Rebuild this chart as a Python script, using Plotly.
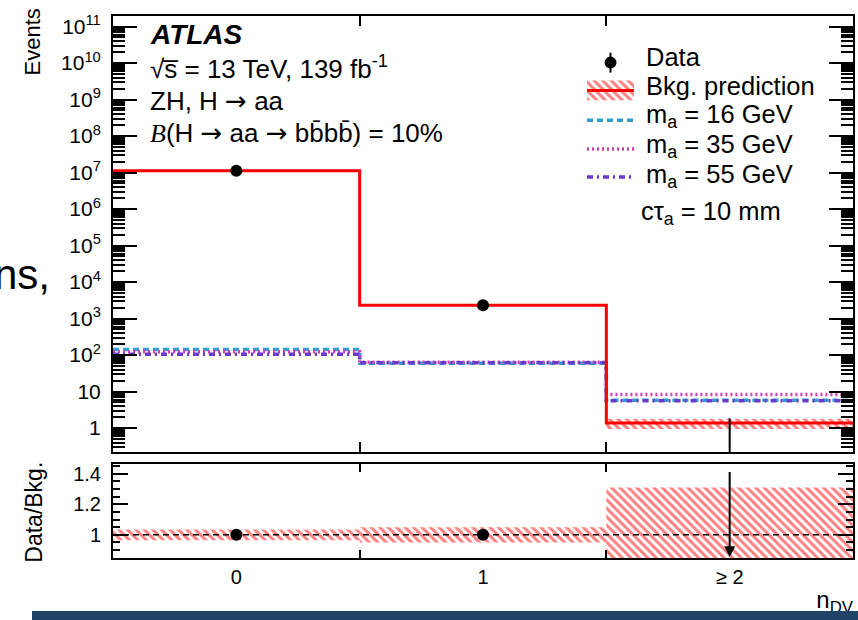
import plotly.graph_objects as go
import numpy as np

W, H = 858, 620
FONT = "Liberation Sans, Arial, Helvetica, sans-serif"

# ---- histogram content -------------------------------------------------
categories = ["0", "1", "≥ 2"]
bin_centres = [0, 1, 2]
bin_edges = [-0.5, 0.5, 1.5, 2.5]

bkg = [1.12e7, 2.3e3, 1.37]
bkg_rel_unc = [0.035, 0.05, 0.31]
data = [1.12e7, 2.3e3, 0.0]
data_err_up = [3347.0, 48.0, 1.84]

sig_16 = [141, 59, 5.8]
sig_35 = [122, 63, 8.3]
sig_55 = [105, 61, 5.6]

# ---- derived quantities -----------------------------------------------
ratio = [d / b for d, b in zip(data, bkg)]
ratio_range = [0.848, 1.461]
main_range_log = [-0.66, 11.29]

C_SIG16 = "#2f9fd2"
C_SIG35 = "#d23fb4"
C_SIG55 = "#6a3acc"
ARROW = "<span style='font-family:DejaVu Sans'>→</span>"


def px_x(p):
    return p / W


def px_y(p):
    return 1 - p / H


def step(vals):
    return bin_edges, list(vals) + [vals[-1]]


fig = go.Figure()

hatch = dict(shape="\\", fgcolor="#ff0000", bgcolor="rgba(0,0,0,0)",
             size=6, solidity=0.5, fillmode="overlay")

# background uncertainty bands (main and ratio panel)
lo = [b * (1 - u) for b, u in zip(bkg, bkg_rel_unc)]
hi = [b * (1 + u) for b, u in zip(bkg, bkg_rel_unc)]
fig.add_trace(go.Bar(x=bin_centres, y=[h - l for h, l in zip(hi, lo)], base=lo,
                     width=1, marker=dict(color="rgba(0,0,0,0)", line_width=0, pattern=hatch),
                     xaxis="x", yaxis="y", showlegend=False))
fig.add_trace(go.Bar(x=bin_centres, y=[2 * u for u in bkg_rel_unc], base=[1 - u for u in bkg_rel_unc],
                     width=1, marker=dict(color="rgba(0,0,0,0)", line_width=0, pattern=hatch),
                     xaxis="x2", yaxis="y2", showlegend=False))

# signal hypotheses
for vals, col, dash in [(sig_16, C_SIG16, "6px,4px"),
                        (sig_35, C_SIG35, "2px,3px"),
                        (sig_55, C_SIG55, "6px,4px,2px,4px")]:
    xs, ys = step(vals)
    fig.add_trace(go.Scatter(x=xs, y=ys, mode="lines", line_shape="hv",
                             line=dict(color=col, width=3.5, dash=dash),
                             xaxis="x", yaxis="y", showlegend=False))

# background prediction
xs, ys = step(bkg)
fig.add_trace(go.Scatter(x=xs, y=ys, mode="lines", line_shape="hv",
                         line=dict(color="#ff0000", width=3),
                         xaxis="x", yaxis="y", showlegend=False))

# data: non-empty bins as points, empty bins only with their upper error
pos = [i for i, d in enumerate(data) if d > 0]
fig.add_trace(go.Scatter(x=[bin_centres[i] for i in pos], y=[data[i] for i in pos],
                         mode="markers", marker=dict(color="black", size=12),
                         error_y=dict(type="data", array=[data_err_up[i] for i in pos],
                                      color="black", thickness=2, width=0),
                         xaxis="x", yaxis="y", showlegend=False))
for i, d in enumerate(data):
    if d <= 0:
        fig.add_trace(go.Scatter(x=[bin_centres[i], bin_centres[i]],
                                 y=[10 ** main_range_log[0] / 10, d + data_err_up[i]],
                                 mode="lines", line=dict(color="black", width=2),
                                 xaxis="x", yaxis="y", showlegend=False))

# ratio panel
fig.add_trace(go.Scatter(x=[-0.5, 2.5], y=[1, 1], mode="lines",
                         line=dict(color="black", width=1.5, dash="6px,4px"),
                         xaxis="x2", yaxis="y2", showlegend=False))
in_rng = [i for i, r in enumerate(ratio) if ratio_range[0] <= r <= ratio_range[1]]
fig.add_trace(go.Scatter(x=[bin_centres[i] for i in in_rng], y=[ratio[i] for i in in_rng],
                         mode="markers", marker=dict(color="black", size=12),
                         xaxis="x2", yaxis="y2", showlegend=False))

annotations = []
for i, r in enumerate(ratio):
    if r < ratio_range[0]:
        annotations.append(dict(x=bin_centres[i], y=ratio_range[0] + 0.005,
                                ax=bin_centres[i], ay=ratio_range[1] - 0.04,
                                xref="x2", yref="y2", axref="x2", ayref="y2",
                                text="", showarrow=True, arrowhead=2, arrowsize=1.1,
                                arrowwidth=2, arrowcolor="black"))

# ---- legend drawn on a pixel-space overlay -----------------------------
leg_x0, leg_x1 = 587, 634
leg_xm = (leg_x0 + leg_x1) / 2
leg_rows = [59, 87, 117, 146, 174]
fig.add_trace(go.Scatter(x=[leg_xm, leg_xm], y=[leg_rows[0] - 10, leg_rows[0] + 10], mode="lines",
                         line=dict(color="black", width=2), xaxis="x3", yaxis="y3", showlegend=False))
fig.add_trace(go.Scatter(x=[leg_xm], y=[leg_rows[0]], mode="markers",
                         marker=dict(color="black", size=12), xaxis="x3", yaxis="y3", showlegend=False))
fig.add_trace(go.Bar(x=[leg_xm], y=[20], base=[leg_rows[1] - 10], width=[leg_x1 - leg_x0],
                     marker=dict(color="rgba(0,0,0,0)", line_width=0, pattern=hatch),
                     xaxis="x3", yaxis="y3", showlegend=False))
fig.add_trace(go.Scatter(x=[leg_x0, leg_x1], y=[leg_rows[1]] * 2, mode="lines",
                         line=dict(color="#ff0000", width=3), xaxis="x3", yaxis="y3", showlegend=False))
for row, col, dash in [(leg_rows[2], C_SIG16, "6px,4px"),
                       (leg_rows[3], C_SIG35, "2px,3px"),
                       (leg_rows[4], C_SIG55, "6px,4px,2px,4px")]:
    fig.add_trace(go.Scatter(x=[leg_x0, leg_x1], y=[row, row], mode="lines",
                             line=dict(color=col, width=3.5, dash=dash),
                             xaxis="x3", yaxis="y3", showlegend=False))

# x-axis title, partly hidden by the footer band
fig.add_trace(go.Scatter(x=[853], y=[602], mode="text", text=["n<sub>DV</sub>"],
                         textposition="middle left", textfont=dict(family=FONT, size=24, color="black"),
                         cliponaxis=False, xaxis="x3", yaxis="y3", showlegend=False))

leg_labels = [(53, "Data"), (83, "Bkg. prediction"), (113, "m<sub>a</sub> = 16 GeV"),
              (143, "m<sub>a</sub> = 35 GeV"), (173, "m<sub>a</sub> = 55 GeV")]
for row, lab in leg_labels:
    annotations.append(dict(x=px_x(644), y=px_y(row), xref="paper", yref="paper", text=lab,
                            showarrow=False, xanchor="left", yanchor="middle",
                            font=dict(family=FONT, size=25.5, color="black")))
annotations.append(dict(x=px_x(639), y=px_y(210), xref="paper", yref="paper",
                        text="cτ<sub>a</sub> = 10 mm", showarrow=False,
                        xanchor="left", yanchor="middle", font=dict(family=FONT, size=25.5, color="black")))

# ---- ATLAS label block ---------------------------------------------------
label_lines = [
    (31, "<b><i>ATLAS</i></b>", 28),
    (64, "√s̅ = 13 TeV, 139 fb<sup>-1</sup>", 26),
    (98, f"ZH, H {ARROW} aa", 26),
    (130, f"<span style='font-family:Liberation Serif'><i>B</i></span>(H {ARROW} aa {ARROW} bb̄bb̄) = 10%", 26),
]
for row, txt, size in label_lines:
    annotations.append(dict(x=px_x(148), y=px_y(row), xref="paper", yref="paper", text=txt,
                            showarrow=False, xanchor="left", yanchor="middle",
                            font=dict(family=FONT, size=size, color="black")))

# axis titles
annotations.append(dict(x=px_x(32), y=px_y(3), xref="paper", yref="paper", text="Events",
                        textangle=-90, showarrow=False, xanchor="center", yanchor="top",
                        font=dict(family=FONT, size=22, color="black")))
annotations.append(dict(x=px_x(34), y=px_y(512), xref="paper", yref="paper", text="Data/Bkg.",
                        textangle=-90, showarrow=False, xanchor="center", yanchor="middle",
                        font=dict(family=FONT, size=23, color="black")))

# fragment of surrounding slide text
annotations.append(dict(x=px_x(52), y=px_y(272), xref="paper", yref="paper", text="ns,",
                        showarrow=False, xanchor="right", yanchor="middle",
                        font=dict(family=FONT, size=42, color="black")))

# ---- axes -----------------------------------------------------------------
x_dom = [px_x(113), px_x(853)]
y_main = [px_y(451), px_y(12)]
y_ratio = [px_y(557.7), px_y(463.3)]

frame = dict(showline=True, linecolor="black", linewidth=2, mirror="allticks",
             showgrid=False, zeroline=False, ticks="inside", tickcolor="black")

main_major = [10.0 ** k for k in range(0, 12)]
main_text = ["1", "10"] + [f"10<sup>{k}</sup>" for k in range(2, 12)]
main_minor = [m * 10.0 ** k for k in range(-1, 12) for m in range(2, 10)]

fig.update_layout(
    width=W, height=H, margin=dict(l=0, r=0, t=0, b=0),
    paper_bgcolor="white", plot_bgcolor="rgba(0,0,0,0)",
    barmode="overlay", showlegend=False,
    font=dict(family=FONT, size=20, color="black"),
    xaxis=dict(domain=x_dom, anchor="y", range=[-0.5, 2.5], tickvals=bin_centres,
               ticklen=0, showticklabels=False,
               minor=dict(tickvals=[0.5, 1.5], ticks="inside", ticklen=10, tickwidth=2, tickcolor="black"),
               **frame),
    yaxis=dict(domain=y_main, anchor="x", type="log", range=main_range_log,
               tickvals=main_major, ticktext=main_text, ticklen=24, tickwidth=2,
               ticklabelstandoff=6, tickfont=dict(size=21),
               minor=dict(tickvals=main_minor, ticks="inside", ticklen=12, tickwidth=1.5, tickcolor="black"),
               **frame),
    xaxis2=dict(domain=x_dom, anchor="y2", range=[-0.5, 2.5], matches="x",
                tickvals=bin_centres, ticktext=categories, ticklen=0, tickfont=dict(size=20),
                ticklabelstandoff=0,
                minor=dict(tickvals=[0.5, 1.5], ticks="inside", ticklen=8, tickwidth=2, tickcolor="black"),
                **frame),
    yaxis2=dict(domain=y_ratio, anchor="x2", range=ratio_range,
                tickvals=[1.0, 1.2, 1.4], ticktext=["1", "1.2", "1.4"], ticklen=15, tickwidth=2,
                ticklabelstandoff=6, tickfont=dict(size=20),
                minor=dict(tickvals=list(np.round(np.arange(0.85, 1.46, 0.05), 2)), ticks="inside",
                           ticklen=7, tickwidth=1.5, tickcolor="black"),
                **frame),
    xaxis3=dict(domain=[0, 1], anchor="y3", range=[0, W], visible=False, fixedrange=True),
    yaxis3=dict(domain=[0, 1], anchor="x3", range=[H, 0], visible=False, fixedrange=True),
    annotations=annotations,
    shapes=[dict(type="rect", xref="paper", yref="paper", x0=px_x(32), x1=1.0,
                 y0=0, y1=px_y(611), fillcolor="#1f4467", line_width=0, layer="above")],
)

fig.write_html("out.html")
